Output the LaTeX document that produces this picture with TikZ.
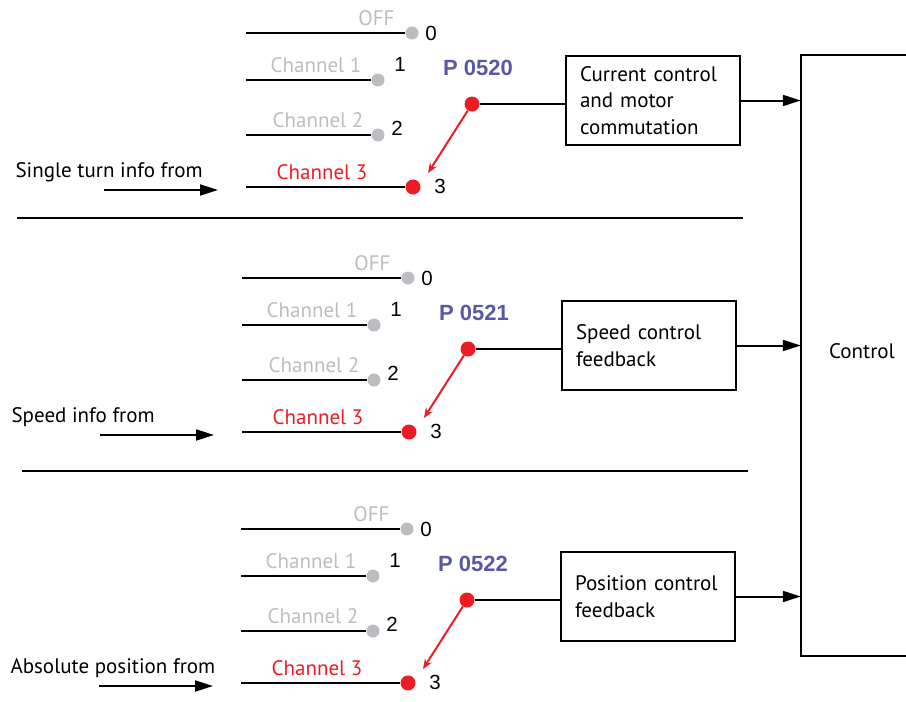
\documentclass[tikz,border=0pt]{standalone}
\usepackage{fontspec}
\setmainfont{PT Sans}
\newfontfamily\digitfont{Liberation Sans}
\usetikzlibrary{arrows.meta}

\definecolor{offgray}{RGB}{188,189,192}
\definecolor{selred}{RGB}{237,28,36}
\definecolor{parblue}{RGB}{88,88,165}

\begin{document}
\begin{tikzpicture}[x=1pt,y=-1pt,font=\fontsize{21}{26.5}\selectfont]
	\tikzstyle{wire}=[line width=2pt]
	\tikzstyle{graydot}=[circle,fill=offgray,inner sep=0pt,minimum size=13pt]
	\tikzstyle{reddot}=[circle,fill=selred,inner sep=0pt,minimum size=15pt]
	\tikzstyle{num}=[font=\digitfont\fontsize{20.5}{22}\selectfont,inner sep=0pt]
	\tikzstyle{block}=[draw,line width=1.2pt,text width=146pt,inner xsep=14pt,minimum height=89pt,align=left]
	\useasboundingbox (0,0) rectangle (906,702);

	% control block, open on the right
	\node (ctrl) [minimum width=120pt,minimum height=601pt] at (861,355.5) {};
	\draw[wire] (ctrl.north east) -- (ctrl.north west) -- (ctrl.south west) -- (ctrl.south east);
	\node (ctrltxt) at (862,351) {Control};

	% separators
	\draw[wire] (17,218) -- (743,218);
	\draw[wire] (22,471) -- (748,471);

	% three selector stages
	\foreach \i/\dx/\dy/\pnum/\src/\fb in {1/0/0/0520/Single turn info from/{Current control\\and motor\\commutation}, 2/-4/245/0521/Speed info from/{Speed control\\feedback}, 3/-5/496/0522/Absolute position from/{Position control\\feedback}}{
	\begin{scope}[shift={(\dx,\dy)}]
		\node (off\i) [graydot] at (412,33) {};
		\node (ch1\i) [graydot] at (378,80) {};
		\node (ch2\i) [graydot] at (378,135) {};
		\node (ch3\i) [reddot] at (413,187) {};
		\coordinate (in0\i) at (246,33);
		\coordinate (in1\i) at (246,80);
		\coordinate (in2\i) at (246,135);
		\coordinate (in3\i) at (246,187);
		\draw[wire] (in0\i) -- (off\i);
		\draw[wire] (in1\i) -- (ch1\i);
		\draw[wire] (in2\i) -- (ch2\i);
		\draw[wire] (in3\i) -- (ch3\i);
		\node (loff\i) [text=offgray,anchor=east] at (398,18) {OFF};
		\node (lch1\i) [text=offgray] at (316,65) {Channel 1};
		\node (lch2\i) [text=offgray] at (318,120) {Channel 2};
		\node (lch3\i) [text=selred] at (322,172) {Channel 3};
		\node (n0\i) [num] at (431,33) {0};
		\node (n1\i) [num] at (400,64) {1};
		\node (n2\i) [num] at (397,128) {2};
		\node (n3\i) [num] at (440,186) {3};
		\node (par\i) [text=parblue,font=\digitfont\bfseries\fontsize{22}{24}\selectfont] at (478,68) {P \pnum};
		\node (piv\i) [reddot] at (472,104) {};
		\coordinate (tip\i) at (428,173);
		\draw[selred,wire,-{Stealth[length=10pt,width=8pt]}] (piv\i) -- (tip\i);
		\node (fb\i) [block] at (653,100.5) {\fb};
		\draw[line width=1.2pt] (piv\i) -- (piv\i -| fb\i.west);
		\draw[wire,-{Triangle[length=18pt,width=11pt]}] (fb\i.east) -- (fb\i.east -| ctrl.west);
		\node (src\i) [anchor=west] at (12,172) {\src};
		\coordinate (srcs\i) at (104,190);
		\coordinate (srce\i) at (218,190);
		\draw[wire,-{Triangle[length=18pt,width=11pt]}] (srcs\i) -- (srce\i);
	\end{scope}
	}
\end{tikzpicture}
\end{document}
